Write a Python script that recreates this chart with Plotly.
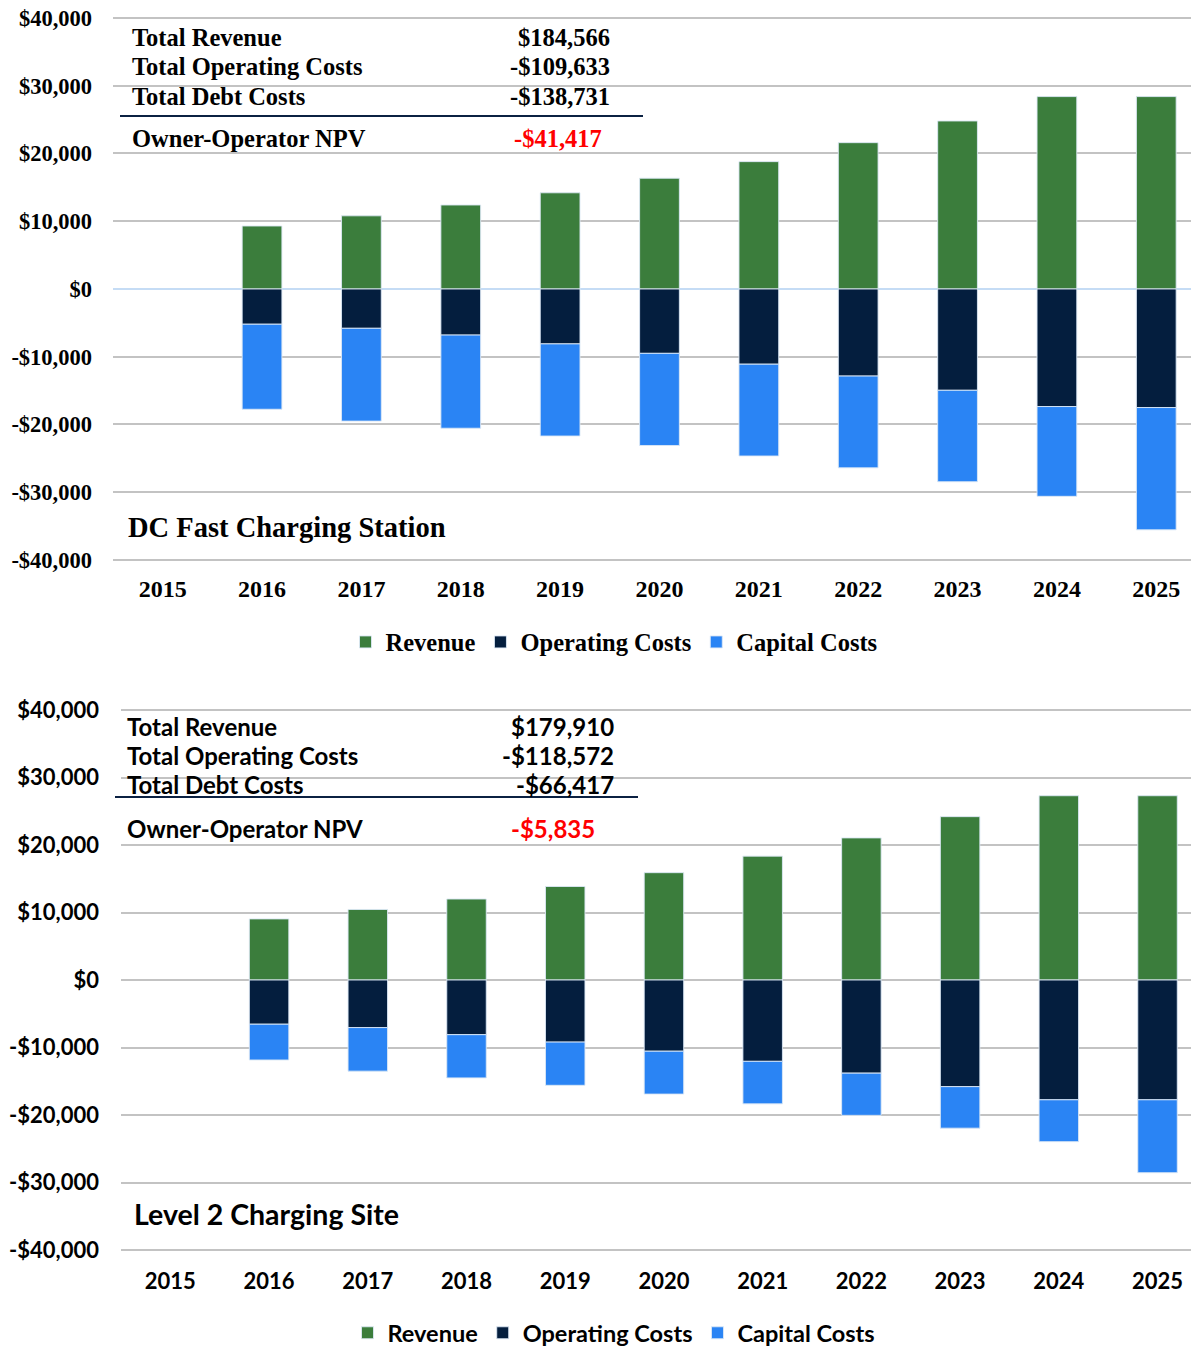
import plotly.graph_objects as go

# The page body adds an 8px margin, so the figure is sized to fill the rest of the window
OFF = 8
W, H = 1199 - OFF, 1347 - OFF

years = [str(y) for y in range(2015, 2026)]

# DC Fast Charging Station (top)
dc_revenue = [None, 9300, 10800, 12400, 14200, 16350, 18800, 21600, 24800, 28400, 28400]
dc_operating = [None, -5200, -5800, -6800, -8100, -9500, -11100, -12850, -14950, -17350, -17500]
dc_capital = [None, -12550, -13700, -13750, -13600, -13600, -13550, -13550, -13500, -13250, -18050]
dc_summary_labels = ["Total Revenue", "Total Operating Costs", "Total Debt Costs"]
dc_summary_values = ["$184,566", "-$109,633", "-$138,731"]
dc_npv = "-$41,417"
dc_title = "DC Fast Charging Station"

# Level 2 Charging Site (bottom)
l2_revenue = [None, 9050, 10450, 12000, 13850, 15900, 18350, 21050, 24200, 27300, 27300]
l2_operating = [None, -6550, -7050, -8100, -9200, -10550, -12050, -13800, -15800, -17750, -17750]
l2_capital = [None, -5300, -6450, -6400, -6400, -6350, -6300, -6250, -6150, -6200, -10800]
l2_summary_labels = ["Total Revenue", "Total Operating Costs", "Total Debt Costs"]
l2_summary_values = ["$179,910", "-$118,572", "-$66,417"]
l2_npv = "-$5,835"
l2_title = "Level 2 Charging Site"

tick_vals = [-40000, -30000, -20000, -10000, 0, 10000, 20000, 30000, 40000]
tick_text = ["-$40,000", "-$30,000", "-$20,000", "-$10,000", "$0", "$10,000", "$20,000", "$30,000", "$40,000"]

series_names = ["Revenue", "Operating Costs", "Capital Costs"]
colors = ["#3b7d3c", "#041e3e", "#2a84f4"]

SERIF = "Liberation Serif"
SANS = "Lato"

PAD = 1.012  # small range padding so the ±$40,000 gridlines are drawn


def px_x(x):
    return (x - OFF) / W


def px_y(y):
    return 1 - (y - OFF) / H


def ydomain(top_px, bottom_px):
    c = (top_px + bottom_px) / 2
    h = (bottom_px - top_px) / 2 * PAD
    return [px_y(c + h), px_y(c - h)]


fig = go.Figure()

panels = [
    dict(data=[dc_revenue, dc_operating, dc_capital], xa="x", ya="y", legend="legend"),
    dict(data=[l2_revenue, l2_operating, l2_capital], xa="x2", ya="y2", legend="legend2"),
]
for p in panels:
    for name, vals, col in zip(series_names, p["data"], colors):
        fig.add_trace(go.Bar(
            x=years, y=vals, name=name, marker_color=col,
            marker_line=dict(color="rgba(220,232,245,0.9)", width=1),
            width=0.4, xaxis=p["xa"], yaxis=p["ya"], legend=p["legend"],
            hoverinfo="skip",
        ))

grid_col = "#c3c3c3"


def yaxis_cfg(domain, font, size, zerocol, standoff):
    return dict(
        domain=domain, range=[-40000 * PAD, 40000 * PAD], tickvals=tick_vals, ticktext=tick_text,
        showgrid=True, gridcolor=grid_col, gridwidth=2,
        zeroline=True, zerolinecolor=zerocol, zerolinewidth=2,
        tickfont=dict(family=font, size=size, color="#000", weight="bold"),
        ticks="", ticklabelstandoff=standoff, ticklabeloverflow="allow",
        showline=False, fixedrange=True, automargin=False,
    )


def xaxis_cfg(domain, anchor, font, size, rng, standoff):
    return dict(
        domain=domain, anchor=anchor, type="category", range=rng,
        showgrid=False, showline=False, ticks="", zeroline=False,
        tickfont=dict(family=font, size=size, color="#000", weight="bold"),
        ticklabelstandoff=standoff, ticklabeloverflow="allow",
        fixedrange=True, automargin=False,
    )


fig.update_layout(
    width=W, height=H, barmode="relative", bargap=0.6,
    margin=dict(l=0, r=0, t=0, b=0, autoexpand=False),
    paper_bgcolor="white", plot_bgcolor="white",
    xaxis=xaxis_cfg([px_x(113), 1], "y", SERIF, 24, [-0.5, 10.43], 9),
    yaxis=yaxis_cfg(ydomain(18, 560), SERIF, 22.5, "#c5dcf5", 20),
    xaxis2=xaxis_cfg([px_x(121), 1], "y2", SANS, 22, [-0.5, 10.42], 13),
    yaxis2=yaxis_cfg(ydomain(710, 1250), SANS, 22, grid_col, 13),
    legend=dict(orientation="h", x=px_x(614), xanchor="center", y=px_y(642), yanchor="middle",
                font=dict(family=SERIF, size=24.5, color="#000", weight="bold"),
                traceorder="normal", itemclick=False, itemdoubleclick=False, itemwidth=30),
    legend2=dict(orientation="h", x=px_x(614), xanchor="center", y=px_y(1333), yanchor="middle",
                 font=dict(family=SANS, size=23.5, color="#000", weight="bold"),
                 traceorder="normal", itemclick=False, itemdoubleclick=False, itemwidth=30),
    showlegend=True,
)

annotations = []
shapes = []


def add_summary(font, size, label_x, value_x, rows_y, labels, values, line, npv_y, npv_x, npv,
                title, title_x, title_y, title_size):
    for lab, val, yy in zip(labels, values, rows_y):
        annotations.append(dict(text=lab, x=px_x(label_x), y=px_y(yy), xref="paper", yref="paper",
                                xanchor="left", yanchor="middle", showarrow=False,
                                font=dict(family=font, size=size, color="#000", weight="bold")))
        annotations.append(dict(text=val, x=px_x(value_x), y=px_y(yy), xref="paper", yref="paper",
                                xanchor="right", yanchor="middle", showarrow=False,
                                font=dict(family=font, size=size, color="#000", weight="bold")))
    annotations.append(dict(text="Owner-Operator NPV", x=px_x(label_x), y=px_y(npv_y), xref="paper", yref="paper",
                            xanchor="left", yanchor="middle", showarrow=False,
                            font=dict(family=font, size=size, color="#000", weight="bold")))
    annotations.append(dict(text=npv, x=px_x(npv_x), y=px_y(npv_y), xref="paper", yref="paper",
                            xanchor="left", yanchor="middle", showarrow=False,
                            font=dict(family=font, size=size, color="#ff0000", weight="bold")))
    annotations.append(dict(text=title, x=px_x(title_x), y=px_y(title_y), xref="paper", yref="paper",
                            xanchor="left", yanchor="middle", showarrow=False,
                            font=dict(family=font, size=title_size, color="#000", weight="bold")))
    x0, x1, ly = line
    shapes.append(dict(type="line", xref="paper", yref="paper", x0=px_x(x0), x1=px_x(x1),
                       y0=px_y(ly), y1=px_y(ly), line=dict(color="#0b2142", width=2)))


add_summary(SERIF, 24.5, 130, 612, [38, 67, 96], dc_summary_labels, dc_summary_values,
            (120, 643, 116), 139, 512, dc_npv, dc_title, 126, 527, 28.5)
add_summary(SANS, 24, 125, 616, [726, 755, 784], l2_summary_labels, l2_summary_values,
            (115, 638, 797), 828, 509, l2_npv, l2_title, 132, 1214, 28.5)

fig.update_layout(annotations=annotations, shapes=shapes)

fig.write_html("out.html")
